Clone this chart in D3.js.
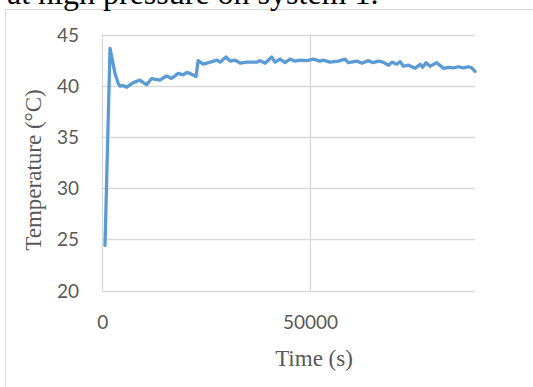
<!DOCTYPE html>
<html>
<head>
<meta charset="utf-8">
<script src="https://cdn.jsdelivr.net/npm/d3@7"></script>
<style>
  body { margin: 0; background: #fff; }
  svg { display: block; }
</style>
</head>
<body>
<svg id="chart" width="533" height="387"></svg>
<script>
// time (s) and temperature (°C)
const times = [800, 2000, 3200, 4000, 4400, 5200, 6000, 7600, 9200, 10000, 10800, 12000, 14000, 15600,
    16800, 18400, 19600, 20500, 21200, 22700, 23200, 24400, 26100, 27700, 28500, 29900, 30900, 32100,
    33300, 34900, 37300, 38100, 39300, 40900, 41700, 42900, 44100, 45300, 46500, 47700, 49300, 50900,
    52500, 53300, 54900, 56900, 58500, 59300, 61400, 62600, 64100, 65300, 66500, 67700, 69000, 69800,
    71000, 71800, 72600, 73800, 75400, 76600, 77200, 78000, 79000, 80600, 82200, 83400, 84600, 85800,
    87000, 88200, 89000, 89800];
const temps = [24.4, 43.65, 41.2, 40.2, 39.97, 40.0, 39.85, 40.3, 40.55, 40.3, 40.1, 40.7, 40.55, 40.95,
    40.7, 41.2, 41.05, 41.3, 41.2, 40.9, 42.45, 42.1, 42.3, 42.5, 42.3, 42.8, 42.4, 42.5,
    42.2, 42.3, 42.3, 42.45, 42.2, 42.8, 42.3, 42.6, 42.25, 42.6, 42.4, 42.5, 42.45, 42.6,
    42.4, 42.5, 42.3, 42.4, 42.6, 42.25, 42.4, 42.2, 42.45, 42.25, 42.4, 42.3, 42.0, 42.3,
    42.1, 42.35, 41.9, 42.0, 41.7, 42.1, 41.8, 42.25, 41.9, 42.25, 41.7, 41.8, 41.75, 41.85,
    41.75, 41.85, 41.75, 41.4];
const yTicks = [20, 25, 30, 35, 40, 45];
const xTicks = [0, 50000];

const svg = d3.select('#chart');
const plotLeft = 101.7, plotRight = 475, plotTop = 34.5, plotBottom = 290.5;

const xs = d3.scaleLinear().domain([0, 89800]).range([plotLeft, plotRight]);
const ys = d3.scaleLinear().domain([20, 45]).range([plotBottom, plotTop]);

// chart frame
svg.append('rect')
    .attr('x', 5.5).attr('y', 9.5)
    .attr('width', 700).attr('height', 500)
    .attr('fill', '#fff')
    .attr('stroke', '#d9d9d9');

// caption line above the chart, cut off by the crop
svg.append('text')
    .attr('x', 7)
    .attr('y', 4)
    .attr('font-family', '"Liberation Serif", serif')
    .attr('font-size', 32)
    .attr('fill', '#000')
    .text('at high pressure on system 1.');

// horizontal gridlines
svg.append('g')
    .selectAll('line')
    .data(yTicks)
    .enter()
    .append('line')
    .attr('x1', plotLeft).attr('x2', plotRight)
    .attr('y1', d => Math.round(ys(d)) + 0.5)
    .attr('y2', d => Math.round(ys(d)) + 0.5)
    .attr('stroke', '#d9d9d9')
    .attr('stroke-width', 1.3);

// vertical gridlines
svg.append('g')
    .selectAll('line')
    .data(xTicks)
    .enter()
    .append('line')
    .attr('y1', plotTop).attr('y2', plotBottom)
    .attr('x1', d => Math.round(xs(d)) + 0.5)
    .attr('x2', d => Math.round(xs(d)) + 0.5)
    .attr('stroke', '#d9d9d9')
    .attr('stroke-width', 1.3);

const labelFont = 'Lato, "Open Sans", sans-serif';

svg.append('g')
    .selectAll('text')
    .data(yTicks)
    .enter()
    .append('text')
    .attr('x', 79)
    .attr('y', d => ys(d) + 7)
    .attr('text-anchor', 'end')
    .attr('font-family', labelFont)
    .attr('font-size', 19)
    .attr('fill', '#595959')
    .text(d => d);

svg.append('g')
    .selectAll('text')
    .data(xTicks)
    .enter()
    .append('text')
    .attr('x', d => xs(d) + 1)
    .attr('y', 329)
    .attr('text-anchor', 'middle')
    .attr('font-family', labelFont)
    .attr('font-size', 19)
    .attr('fill', '#595959')
    .text(d => d);

// axis titles
svg.append('text')
    .attr('x', 314)
    .attr('y', 366)
    .attr('text-anchor', 'middle')
    .attr('font-family', '"Liberation Serif", serif')
    .attr('font-size', 23)
    .attr('fill', '#595959')
    .text('Time (s)');

svg.append('g')
    .attr('transform', 'translate(41, 170)')
    .append('text')
    .attr('transform', 'rotate(-90)')
    .attr('text-anchor', 'middle')
    .attr('font-family', '"Liberation Serif", serif')
    .attr('font-size', 23)
    .attr('fill', '#595959')
    .text('Temperature (°C)');

// data line
const line = d3.line()
    .x((d, i) => xs(times[i]))
    .y(d => ys(d));

svg.append('path')
    .datum(temps)
    .attr('d', line)
    .attr('fill', 'none')
    .attr('stroke', '#5b9bd5')
    .attr('stroke-width', 3.3)
    .attr('stroke-linejoin', 'round')
    .attr('stroke-linecap', 'round');
</script>
</body>
</html>
